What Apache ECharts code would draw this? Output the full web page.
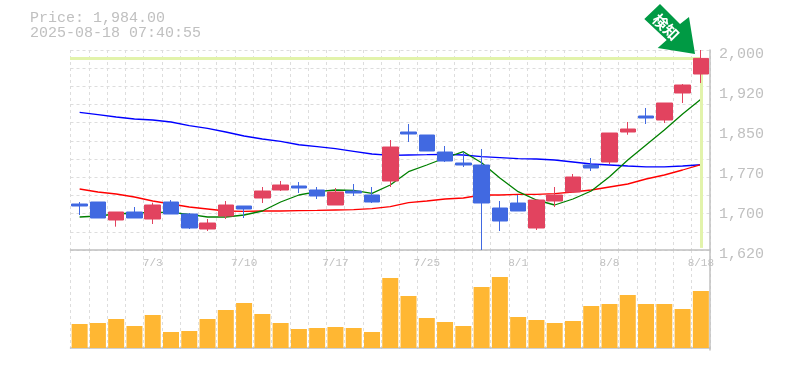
<!DOCTYPE html>
<html>
<head>
<meta charset="utf-8">
<title>Price chart</title>
<style>
html,body{margin:0;padding:0;background:#fff;}
#main{width:785px;height:370px;}
</style>
<script src="https://cdn.jsdelivr.net/npm/echarts@6/dist/echarts.min.js"></script>
</head>
<body>
<div id="main"></div>
<script>
// data
var dates = ['6/27','6/30','7/1','7/2','7/3','7/4','7/7','7/8','7/9','7/10','7/11','7/14','7/15','7/16','7/17','7/18','7/22','7/23','7/24','7/25','7/28','7/29','7/30','7/31','8/1','8/4','8/5','8/6','8/7','8/8','8/12','8/13','8/14','8/15','8/18'];
var opens  = [1707.4,1711.2,1677,1692.2,1678.9,1711.2,1688.4,1659.9,1684.6,1703.6,1718.8,1734,1741.6,1734,1705.5,1732.1,1724.5,1751.1,1844.2,1838.5,1806.2,1785.3,1781.5,1699.8,1709.3,1661.8,1713.1,1730.2,1781.5,1787.2,1844.2,1874.6,1867,1918.3,1954.4];
var closes = [1703.6,1680.8,1692.2,1680.8,1705.5,1688.4,1661.8,1671.3,1705.5,1697.9,1732.1,1743.5,1737.8,1722.6,1730.2,1728.3,1711.2,1815.7,1840.4,1808.1,1789.1,1781.5,1709.3,1675.1,1694.1,1715,1724.5,1758.7,1775.8,1842.3,1849.9,1870.8,1899.3,1933.5,1984];
var lows   = [1686.5,1680.8,1664.3,1680.8,1669.4,1688.4,1659.9,1656.1,1678.9,1680.8,1709.3,1732.1,1728.3,1716.9,1705.5,1722.6,1709.3,1739.7,1825.2,1808.1,1787.2,1777.7,1620,1656.1,1694.1,1658,1701.7,1728.3,1770.1,1783.4,1839,1859.4,1861.3,1899.3,1937.3];
var highs  = [1711.2,1711.2,1692.2,1701.7,1709.9,1715,1690.3,1678.9,1713.1,1703.6,1739.7,1751.1,1749.2,1739.7,1737.8,1745.4,1739.7,1829,1859.4,1838.5,1817.6,1806.2,1811.9,1713.1,1724.5,1715,1739.7,1764.4,1794.8,1842.3,1863.2,1889.8,1899.3,1935.4,2000];
var ma5  = [1682.7,1684.6,1688.4,1690.3,1691.3,1691.3,1687.5,1682.7,1682.7,1686.5,1694.1,1711.2,1724.5,1730.8,1734,1733.4,1727.7,1743.5,1768.8,1781.5,1794.8,1806.8,1785.9,1756.8,1730.8,1715,1705.5,1716.9,1732.1,1759.3,1791,1819.5,1848,1878.4,1906.3];
var ma25 = [1735.9,1730.2,1726.4,1720.7,1713.1,1707.4,1701.7,1697.9,1694.1,1693.2,1694.1,1694.1,1694.7,1695.1,1696,1696.6,1698.5,1702.3,1710,1713.1,1716.9,1718.8,1724.5,1724.5,1725.8,1725.8,1727,1730.2,1734,1739.7,1745.4,1754.9,1762.5,1772,1782];
var ma75 = [1881.6,1877.1,1872.7,1868.9,1867,1863.2,1856.2,1851.2,1844.2,1836.6,1830.9,1826.5,1820,1816.3,1812.5,1807.5,1802.4,1799.9,1800.5,1801.1,1801.8,1800.5,1797.3,1795.4,1793.5,1792.9,1791,1787.2,1783.4,1781.5,1779.6,1778,1778,1779.6,1782];
var volumes = [24,25,29,22,33,16,17,29,38,45,34,25,19,20,21,20,16,70,52,30,26,22,61,71,31,28,25,27,42,44,53,44,44,39,57];
var labelDates = ['7/3','7/10','7/17','7/25','8/1','8/8','8/18'];
var priceLabelValues = [1620,1696,1772,1848,1924,2000];
var priceGridValues = [1620,1654.5,1689.1,1723.6,1758.2,1792.7,1827.3,1861.8,1896.4,1930.9,1965.5,2000];
var lastPrice = 1984;
var lastDate = '8/18';
var title1 = 'Price: 1,984.00';
var title2 = '2025-08-18 07:40:55';

var gridColor = '#dddddd';
var textColor = '#c0c0c0';
var axisColor = '#c0c0c0';
var upColor = '#e2435f';
var downColor = '#4169e1';
var priceLine = '#e2f3ab';
var monoFont = '"Liberation Mono", monospace';

var candles = [];
for (var i = 0; i < dates.length; i++) {
  candles.push([opens[i], closes[i], lows[i], highs[i]]);
}

function thousands(v) {
  var r = Math.round(v / 10) * 10;
  return String(r).replace(/\B(?=(\d{3})+$)/, ',');
}

function maSeries(name, values, color) {
  return {
    name: name, type: 'line', data: values, xAxisIndex: 0, yAxisIndex: 0,
    showSymbol: false, smooth: false, z: 2, silent: true,
    lineStyle: { color: color, width: 1.3 }
  };
}

var myChart = echarts.init(document.getElementById('main'), null, { renderer: 'canvas' });
var option = {
  animation: false,
  backgroundColor: '#fff',
  title: {
    left: 30, top: 11, padding: 0, itemGap: 0,
    text: title1 + '\n' + title2,
    textStyle: { fontFamily: monoFont, fontSize: 15, fontWeight: 'normal', color: textColor, lineHeight: 15 }
  },
  grid: [
    { left: 70.5, right: 75, top: 50, height: 200, show: false },
    { left: 70.5, right: 75, top: 250, height: 100, show: false }
  ],
  xAxis: [
    {
      type: 'category', gridIndex: 0, data: dates, boundaryGap: true,
      axisLine: { show: true, lineStyle: { color: axisColor, width: 1.5 } },
      axisTick: { show: false },
      axisLabel: {
        show: true, interval: 0, margin: 8, hideOverlap: false, showMaxLabel: true,
        fontFamily: monoFont, fontSize: 11, color: textColor,
        formatter: function (v) { return labelDates.indexOf(v) >= 0 ? v : ''; }
      },
      splitLine: { show: true, interval: 0, lineStyle: { color: gridColor, type: [3, 3], width: 1 } }
    },
    {
      type: 'category', gridIndex: 1, data: dates, boundaryGap: true,
      axisLine: { show: true, lineStyle: { color: axisColor, width: 1.5 } },
      axisTick: { show: false },
      axisLabel: { show: false },
      splitLine: { show: true, interval: 0, lineStyle: { color: gridColor, type: [3, 3], width: 1 } }
    }
  ],
  yAxis: [
    {
      type: 'value', gridIndex: 0, position: 'right', min: 1620, max: 2000, scale: true,
      axisLine: { show: true, lineStyle: { color: axisColor, width: 1.5 } },
      axisTick: { show: false, customValues: priceGridValues },
      axisLabel: { show: false, customValues: priceGridValues },
      splitLine: { show: true, lineStyle: { color: gridColor, type: [3, 3], width: 1 } }
    },
    {
      type: 'value', gridIndex: 0, position: 'right', min: 1620, max: 2000, scale: true,
      axisLine: { show: false },
      axisTick: { show: false, customValues: priceLabelValues },
      axisLabel: {
        show: true, margin: 9, customValues: priceLabelValues,
        verticalAlign: 'top', lineHeight: 8,
        fontFamily: monoFont, fontSize: 15, color: textColor,
        formatter: thousands
      },
      splitLine: { show: false }
    },
    {
      type: 'value', gridIndex: 1, position: 'right', min: -2, max: 98,
      axisLine: { show: true, lineStyle: { color: axisColor, width: 1.5 } },
      axisTick: { show: false },
      axisLabel: { show: false },
      splitLine: { show: false }
    }
  ],
  series: [
    maSeries('ma75', ma75, '#0000ff'),
    maSeries('ma25', ma25, '#ff0000'),
    maSeries('ma5', ma5, '#008000'),
    {
      name: 'price', type: 'candlestick', xAxisIndex: 0, yAxisIndex: 0, data: candles,
      barWidth: 16, z: 4, silent: true,
      itemStyle: { color: upColor, color0: downColor, borderColor: upColor, borderColor0: downColor, borderWidth: 1 },
      markLine: {
        silent: true, symbol: 'none', z: 3, animation: false, label: { show: false },
        lineStyle: { color: priceLine, width: 3, type: 'solid' },
        data: [
          [{ x: 70, yAxis: lastPrice }, { xAxis: lastDate, yAxis: lastPrice }],
          [{ xAxis: lastDate, yAxis: lastPrice }, { xAxis: lastDate, yAxis: 1624 }]
        ]
      }
    },
    {
      name: 'volume', type: 'bar', xAxisIndex: 1, yAxisIndex: 2, data: volumes,
      barWidth: 16, silent: true, itemStyle: { color: '#ffb733' }
    }
  ],
  graphic: [
    {
      type: 'polygon', z: 10, silent: true,
      shape: { points: [[660, 4], [680, 24], [689, 17], [695, 54], [657.7, 48], [666.7, 40], [644.3, 19]] },
      style: { fill: '#009a44' }
    },
    {
      type: 'text', z: 11, silent: true, x: 666, y: 27, rotation: -Math.PI / 4,
      style: {
        text: '検知', fill: '#fff', fontSize: 15, fontWeight: 'bold',
        fontFamily: '"Noto Sans CJK JP"', align: 'center', verticalAlign: 'middle'
      }
    }
  ]
};
myChart.setOption(option);
</script>
</body>
</html>
